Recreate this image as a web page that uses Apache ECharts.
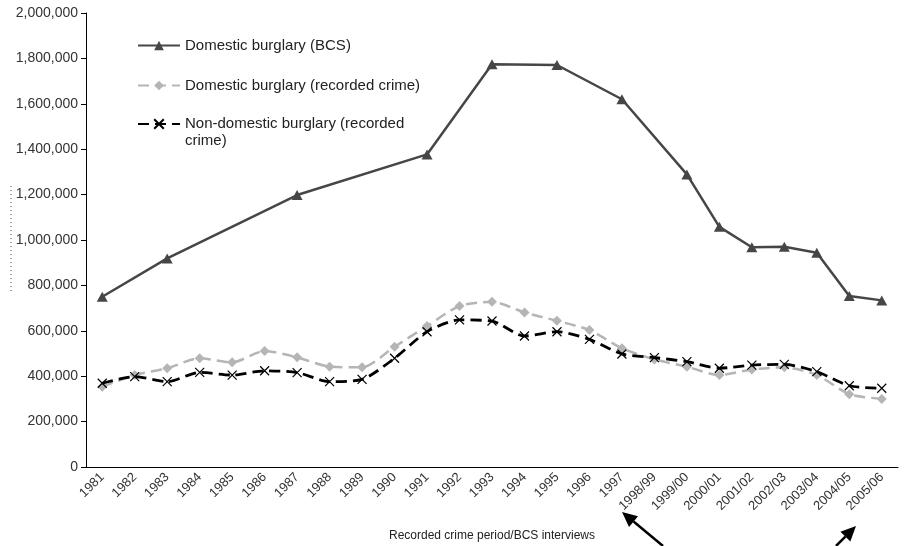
<!DOCTYPE html>
<html>
<head>
<meta charset="utf-8">
<script src="https://cdn.jsdelivr.net/npm/echarts@6/dist/echarts.min.js"></script>
<style>
  html, body { margin: 0; padding: 0; background: #fff; }
  #chart { width: 906px; height: 546px; }
</style>
</head>
<body>
<div id="chart"></div>
<script>
const years = ['1981', '1982', '1983', '1984', '1985', '1986', '1987', '1988', '1989', '1990',
  '1991', '1992', '1993', '1994', '1995', '1996', '1997', '1998/99', '1999/00', '2000/01',
  '2001/02', '2002/03', '2003/04', '2004/05', '2005/06']

// BCS only has survey years, gaps are null
const bcsDomestic = [750000, null, 919000, null, null, null, 1198000, null, null, null,
  1377000, null, 1774000, null, 1771000, null, 1620000, null, 1289000, 1058000,
  968000, 970000, 944000, 753000, 734000]

const recordedDomestic = [354000, 405000, 435000, 479000, 461000, 511000, 483000, 442000, 439000, 530000,
  621000, 709000, 728000, 681000, 644000, 603000, 523000, 474000, 442000, 405000,
  430000, 439000, 405000, 321000, 300000]

const recordedNonDomestic = [369000, 398000, 376000, 417000, 405000, 424000, 416000, 376000, 386000, 479000,
  596000, 648000, 643000, 577000, 596000, 562000, 498000, 482000, 464000, 435000,
  449000, 452000, 420000, 358000, 347000]

const seriesNames = ['Domestic burglary (BCS)', 'Domestic burglary (recorded crime)', 'Non-domestic burglary (recorded crime)']

const font = '"Liberation Sans", Arial, sans-serif'

// little arrow annotations under the axis
function arrow(x1, y1, x2, y2) {
  const ang = Math.atan2(y2 - y1, x2 - x1)
  const len = 15, half = 7
  const bx = x2 - len * Math.cos(ang), by = y2 - len * Math.sin(ang)
  const nx = -Math.sin(ang) * half, ny = Math.cos(ang) * half
  return [
    { type: 'line', shape: { x1: x1, y1: y1, x2: bx, y2: by }, style: { stroke: '#000', lineWidth: 2.5 } },
    { type: 'polygon', shape: { points: [[x2, y2], [bx + nx, by + ny], [bx - nx, by - ny]] }, style: { fill: '#000' } }
  ]
}

const chart = echarts.init(document.getElementById('chart'))

const legendBase = {
  orient: 'vertical',
  left: 137,
  padding: 0,
  itemWidth: 42,
  itemHeight: 12,
  selectedMode: false,
  textStyle: { fontFamily: font, fontSize: 15, color: '#222', lineHeight: 17 }
}

chart.setOption({
  animation: false,
  textStyle: { fontFamily: font },
  grid: { left: 86, right: 8, top: 13, bottom: 79, containLabel: false, outerBoundsMode: 'none' },
  legend: [
    Object.assign({}, legendBase, { top: 37, data: [seriesNames[0]] }),
    Object.assign({}, legendBase, { top: 77, data: [seriesNames[1]] }),
    // leading blank line keeps the icon level with the first text line
    Object.assign({}, legendBase, {
      top: 98.5,
      data: [seriesNames[2]],
      formatter: () => '\nNon-domestic burglary (recorded\ncrime)'
    })
  ],
  xAxis: {
    type: 'category',
    data: years,
    boundaryGap: true,
    name: 'Recorded crime period/BCS interviews',
    nameLocation: 'middle',
    nameGap: 63,
    nameTextStyle: { fontSize: 12, color: '#222' },
    axisLine: { lineStyle: { color: '#000', width: 1 } },
    axisTick: { length: 4, lineStyle: { color: '#000' } },
    axisLabel: { rotate: 45, fontSize: 13, color: '#333', margin: 8, interval: 0 }
  },
  yAxis: {
    type: 'value',
    min: 0,
    max: 2000000,
    interval: 200000,
    axisLine: { show: true, lineStyle: { color: '#000', width: 1 } },
    axisTick: { show: true, length: 5, lineStyle: { color: '#000' } },
    splitLine: { show: false },
    axisLabel: {
      fontSize: 14,
      color: '#333',
      margin: 8,
      formatter: v => v.toLocaleString('en-US')
    }
  },
  series: [
    {
      name: seriesNames[0],
      type: 'line',
      data: bcsDomestic,
      connectNulls: true,
      symbol: 'triangle',
      symbolSize: [11, 10],
      lineStyle: { color: '#464646', width: 2.5 },
      itemStyle: { color: '#464646' },
      z: 3
    },
    {
      name: seriesNames[1],
      type: 'line',
      data: recordedDomestic,
      smooth: 0.25,
      symbol: 'diamond',
      symbolSize: 10,
      lineStyle: { color: '#b5b5b5', width: 2.5, type: [11, 6] },
      itemStyle: { color: '#b5b5b5' },
      z: 2
    },
    {
      name: seriesNames[2],
      type: 'line',
      data: recordedNonDomestic,
      smooth: 0.25,
      symbol: 'path://M0,0L10,10M10,0L0,10',
      symbolSize: 9,
      lineStyle: { color: '#000', width: 2.8, type: [11, 6] },
      itemStyle: { color: 'rgba(0,0,0,0)', borderColor: '#000', borderWidth: 1.2 },
      z: 4
    }
  ],
  graphic: [
    { type: 'line', shape: { x1: 11, y1: 186, x2: 11, y2: 294 }, style: { stroke: '#444', lineWidth: 1, lineDash: [1, 3] } }
  ].concat(arrow(663, 546, 622, 512), arrow(836, 546, 856, 526))
})
</script>
</body>
</html>
